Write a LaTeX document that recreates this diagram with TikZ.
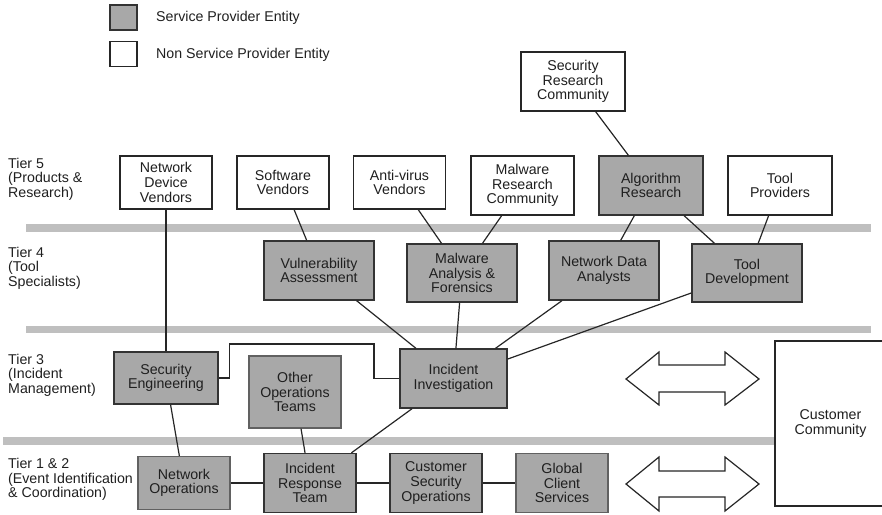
\documentclass[tikz,border=0pt]{standalone}
\usepackage{fontspec}
\setmainfont{Liberation Sans}
\begin{document}
\begin{tikzpicture}[x=1pt,y=-1pt,
  every node/.style={font=\fontsize{14.2}{14.6}\selectfont, text=black!88},
  basebox/.style={rectangle, align=center, inner sep=0pt, line width=1.4pt},
  spbox/.style={basebox, draw=black!80, fill=black!34},
  spboxlight/.style={basebox, draw=black!62, fill=black!34, line width=1.2pt},
  nspbox/.style={basebox, draw=black!85, fill=white},
  tierlabel/.style={anchor=west, align=left, inner sep=0pt},
  legendtext/.style={anchor=west, inner sep=0pt},
  tierbar/.style={draw=none, fill=black!25},
  link/.style={draw=black!85, line width=1.2pt},
  bigarrow/.style={draw=black!85, fill=white, line width=1.2pt, line join=miter}]

\path[use as bounding box, clip] (0,0) rectangle (882,514);

% legend
\node[spbox, minimum width=27, minimum height=25] (legsp) at (123.5,17.5) {};
\node[nspbox, minimum width=27, minimum height=25] (legnsp) at (123.5,54) {};
\node[legendtext] (legsptext) at (156,17.5) {Service Provider Entity};
\node[legendtext] (legnsptext) at (156,54.5) {Non Service Provider Entity};

% tier separators
\fill[tierbar] (26,224) rectangle (871,232);
\fill[tierbar] (26,326) rectangle (871,333);
\fill[tierbar] (3,437) rectangle (775,445);

% tier labels
\node[tierlabel] (t5) at (8,179) {Tier 5\\(Products \&\\Research)};
\node[tierlabel] (t4) at (8,268) {Tier 4\\(Tool\\Specialists)};
\node[tierlabel] (t3) at (8,375) {Tier 3\\(Incident\\Management)};
\node[tierlabel] (t12) at (8,479.5) {Tier 1 \& 2\\(Event Identification\\\& Coordination)};

% tier 5 and above
\node[nspbox, minimum width=104, minimum height=59] (src) at (573,81.5) {Security\\Research\\Community};
\node[nspbox, minimum width=92, minimum height=53] (ndv) at (166,182.5) {Network\\Device\\Vendors};
\node[nspbox, minimum width=92, minimum height=53] (sv) at (283,182.5) {Software\\Vendors};
\node[nspbox, minimum width=92, minimum height=53] (av) at (399.5,182.5) {Anti-virus\\Vendors};
\node[nspbox, minimum width=103, minimum height=59] (mrc) at (522.5,185.5) {Malware\\Research\\Community};
\node[spbox, minimum width=104, minimum height=59] (ar) at (651,185.5) {Algorithm\\Research};
\node[nspbox, minimum width=104, minimum height=59] (tp) at (780,185.5) {Tool\\Providers};

% tier 4
\node[spbox, minimum width=110, minimum height=59] (va) at (319,270.5) {Vulnerability\\Assessment};
\node[spbox, minimum width=110, minimum height=58] (maf) at (462,273) {Malware\\Analysis \&\\Forensics};
\node[spbox, minimum width=110, minimum height=59] (nda) at (604,270.5) {Network Data\\Analysts};
\node[spbox, minimum width=110, minimum height=58] (td) at (747,273) {Tool\\Development};

% tier 3
\node[spbox, minimum width=104, minimum height=52] (se) at (166,378) {Security\\Engineering};
\node[spboxlight, minimum width=92, minimum height=72] (oot) at (295,392) {Other\\Operations\\Teams};
\node[spbox, minimum width=107, minimum height=59] (ii) at (453.5,378.5) {Incident\\Investigation};

% tier 1 & 2
\node[spboxlight, minimum width=92, minimum height=53] (no) at (184,483) {Network\\Operations};
\node[spbox, minimum width=92, minimum height=59] (irt) at (310,483) {Incident\\Response\\Team};
\node[spbox, minimum width=92, minimum height=59] (cso) at (436,483) {Customer\\Security\\Operations};
\node[spboxlight, minimum width=92, minimum height=59] (gcs) at (562,483) {Global\\Client\\Services};

% customer community, running past the right edge
\node[nspbox, line width=1.2pt, minimum width=111, minimum height=165] (cc) at (830.5,423.5) {Customer\\Community};

% exchange arrows
\draw[bigarrow] (626,379) -- (659,352) -- (659,365) -- (725,365) -- (725,352) -- (759,379)
  -- (725,405) -- (725,392) -- (659,392) -- (659,405) -- cycle;
\draw[bigarrow] (626,484) -- (659,457) -- (659,471) -- (725,471) -- (725,457) -- (759,484)
  -- (725,511) -- (725,497) -- (659,497) -- (659,511) -- cycle;

% connectors
\draw[link] (src) -- (ar);
\draw[link] (sv) -- (va);
\draw[link] (av) -- (maf);
\draw[link] (mrc) -- (maf);
\draw[link] (ar) -- (nda);
\draw[link] (ar) -- (td);
\draw[link] (tp) -- (td);
\draw[link] (ndv) -- (se);
\draw[link] (va) -- (ii);
\draw[link] (maf) -- (ii);
\draw[link] (nda) -- (ii);
\draw[link] (td) -- (ii);
\coordinate (bend) at (374,344);
\draw[link] (se.east) -- ++(11,0) |- (bend) |- (ii.west);
\draw[link] (se) -- (no);
\draw[link] (oot) -- (irt);
\draw[link] (ii) -- (irt);
\draw[link] (no) -- (irt);
\draw[link] (irt) -- (cso);
\draw[link] (cso) -- (gcs);
\end{tikzpicture}
\end{document}
